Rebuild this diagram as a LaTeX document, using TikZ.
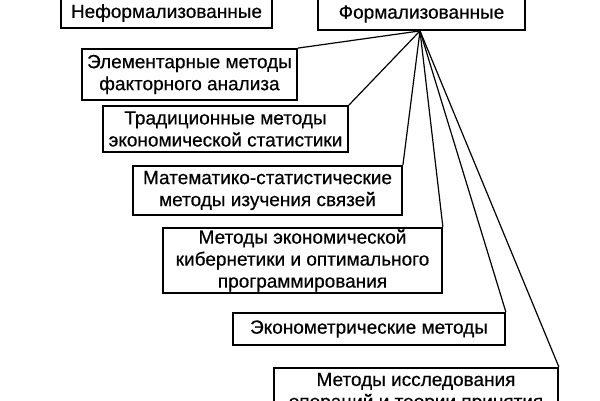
\documentclass[tikz,border=0pt]{standalone}
\usepackage{fontspec}
\setmainfont{Liberation Sans}
\newfontfamily\boxfont{Liberation Sans}[BoldFont=Liberation Sans,BoldFeatures={FakeBold=0.5}]
\begin{document}
\begin{tikzpicture}[x=1pt,y=-1pt,
  box/.style={draw=black,line width=1.8pt,align=center,inner sep=0pt,
    font=\boxfont\bfseries\fontsize{19}{22}\selectfont},
  conn/.style={draw=black,line width=1.2pt}]
\useasboundingbox (0,0) rectangle (600,400);
\node[box,minimum width=211pt,minimum height=30pt] (b1) at (166.5,13) {Неформализованные};
\node[box,minimum width=207pt,minimum height=32pt] (b2) at (421.5,14) {Формализованные};
\node[box,minimum width=215pt,minimum height=51pt] (b3) at (189.5,74.5) {Элементарные методы\\факторного анализа};
\node[box,minimum width=245pt,minimum height=46pt] (b4) at (225.5,129) {Традиционные методы\\экономической статистики};
\node[box,minimum width=269pt,minimum height=49pt] (b5) at (267.5,190.5) {Математико-статистические\\методы изучения связей};
\node[box,minimum width=279pt,minimum height=65pt] (b6) at (302.5,260.5) {Методы экономической\\кибернетики и оптимального\\программирования};
\node[box,minimum width=272pt,minimum height=32pt] (b7) at (369,329) {Эконометрические методы};
\node[box,minimum width=284pt,inner ysep=5pt,anchor=north] (b8) at (416,367) {Методы исследования\\операций и теории принятия};
\coordinate (hub) at ([xshift=-1.5pt]b2.south);
\foreach \b in {b3,b4,b5,b6,b7,b8}
  \draw[conn] (hub) -- (\b.north east);
\end{tikzpicture}
\end{document}
